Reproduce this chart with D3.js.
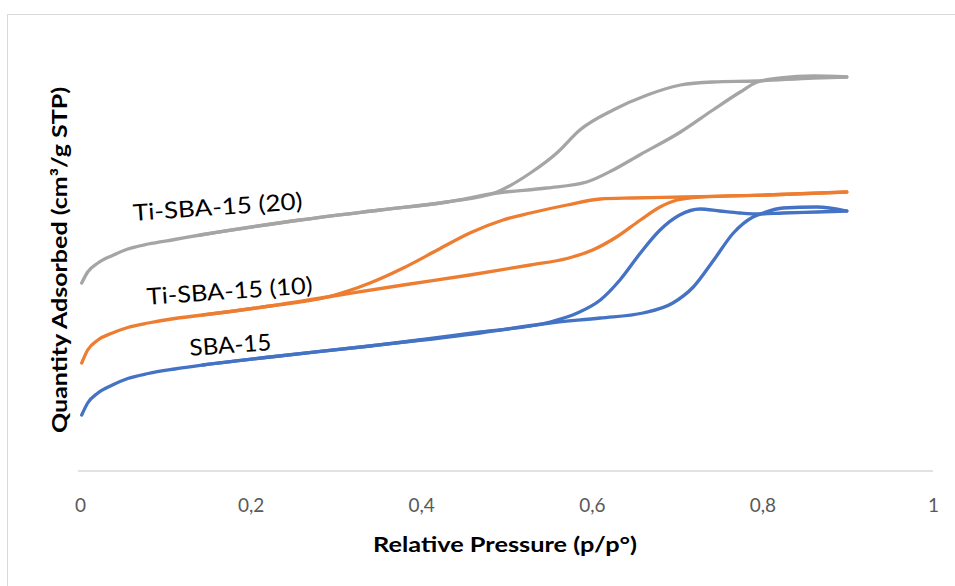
<!DOCTYPE html>
<html>
<head>
<meta charset="utf-8">
<script src="https://cdn.jsdelivr.net/npm/d3@7"></script>
<style>
  html, body { margin: 0; padding: 0; background: #fff; }
  svg { display: block; }
</style>
</head>
<body>
<svg id="chart" width="955" height="586"></svg>
<script>
// ---- data (relative pressure p/p°, quantity adsorbed cm³/g STP) ----
const seriesNames = ["SBA-15", "Ti-SBA-15 (10)", "Ti-SBA-15 (20)"];
const seriesColors = ["#4472C4", "#ED7D31", "#A5A5A5"];
const xTicks = [0, 0.2, 0.4, 0.6, 0.8, 1];
const xTickLabels = ["0", "0,2", "0,4", "0,6", "0,8", "1"];

const sbaAdsP = [0.002,0.009,0.021,0.038,0.056,0.080,0.111,0.144,0.223,0.340,0.469,0.551,0.610,0.660,0.695,0.719,0.743,0.766,0.789,0.801,0.824,0.864,0.899];
const sbaAdsQ = [110,134,154,170,183,193,202,210,226,248,274,294,304,314,334,366,420,474,506,514,524,526,518];
const sbaDesP = [0.899,0.864,0.824,0.797,0.774,0.750,0.727,0.703,0.680,0.657,0.633,0.610,0.583,0.551,0.469,0.340,0.223,0.144];
const sbaDesQ = [518,516,514,512,514,518,522,510,480,434,380,340,314,296,276,248,226,210];

const ti10AdsP = [0.002,0.009,0.021,0.038,0.056,0.080,0.111,0.144,0.223,0.290,0.379,0.457,0.528,0.571,0.601,0.629,0.657,0.680,0.700,0.727,0.805,0.899];
const ti10AdsQ = [214,240,260,274,285,294,303,310,328,346,370,390,410,423,440,466,500,526,540,546,550,556];
const ti10DesP = [0.899,0.805,0.707,0.648,0.610,0.571,0.528,0.496,0.457,0.419,0.379,0.340,0.290,0.223,0.144];
const ti10DesQ = [556,550,546,544,542,530,514,500,474,440,404,374,346,328,310];

const ti20AdsP = [0.002,0.009,0.021,0.038,0.056,0.080,0.111,0.141,0.258,0.352,0.430,0.489,0.547,0.594,0.625,0.656,0.704,0.742,0.774,0.794,0.821,0.860,0.899];
const ti20AdsQ = [374,396,414,429,442,452,461,470,500,520,536,554,564,576,600,630,676,720,756,776,784,788,786];
const ti20DesP = [0.899,0.860,0.794,0.742,0.704,0.665,0.625,0.586,0.559,0.528,0.489,0.430,0.352,0.258,0.141];
const ti20DesQ = [786,784,778,776,770,750,720,680,634,594,556,536,520,500,470];

// ---- layout ----
const svg = d3.select("#chart");
const font = "Lato, 'Open Sans', sans-serif";

svg.append("rect")
  .attr("x", 7.5).attr("y", 14.5).attr("width", 1000).attr("height", 600)
  .attr("fill", "#fff").attr("stroke", "#d9d9d9").attr("stroke-width", 1);

const x = d3.scaleLinear().domain([0, 1]).range([80, 933]);
const y = d3.scaleLinear().domain([-2, 860]).range([471, 40]);

// x axis
const axisG = svg.append("g").attr("transform", `translate(0,${y(-2)})`)
  .call(d3.axisBottom(x).tickValues(xTicks).tickSize(0).tickPadding(0)
        .tickFormat((d, i) => xTickLabels[i]));
axisG.select(".domain").attr("stroke", "#d9d9d9").attr("stroke-width", 1.3)
  .attr("d", `M${x(0) - 2},0H${x(1)}`);
axisG.selectAll(".tick text")
  .attr("y", 41).attr("dy", 0)
  .attr("fill", "#595959")
  .style("font-family", font).style("font-size", "19px");

// axis titles
svg.append("text")
  .attr("x", 505).attr("y", 552)
  .attr("text-anchor", "middle")
  .attr("textLength", 264).attr("lengthAdjust", "spacingAndGlyphs")
  .style("font-family", font).style("font-size", "21px").style("font-weight", "bold")
  .attr("fill", "#000")
  .text("Relative Pressure (p/p°)");

svg.append("text")
  .attr("transform", "translate(67,260) rotate(-90)")
  .attr("text-anchor", "middle")
  .attr("textLength", 346).attr("lengthAdjust", "spacingAndGlyphs")
  .style("font-family", font).style("font-size", "21px").style("font-weight", "bold")
  .attr("fill", "#000")
  .text("Quantity Adsorbed (cm³/g STP)");

// series
const series = [
  { adsP: sbaAdsP, adsQ: sbaAdsQ, desP: sbaDesP, desQ: sbaDesQ },
  { adsP: ti10AdsP, adsQ: ti10AdsQ, desP: ti10DesP, desQ: ti10DesQ },
  { adsP: ti20AdsP, adsQ: ti20AdsQ, desP: ti20DesP, desQ: ti20DesQ }
];

const line = d3.line()
  .x(d => x(d[0])).y(d => y(d[1]))
  .curve(d3.curveMonotoneX);

series.forEach((s, i) => {
  const ads = s.adsP.map((p, k) => [p, s.adsQ[k]]);
  const des = s.desP.map((p, k) => [p, s.desQ[k]]);
  [ads, des].forEach(branch => {
    svg.append("path")
      .attr("d", line(branch))
      .attr("fill", "none")
      .attr("stroke", seriesColors[i])
      .attr("stroke-width", 3.3)
      .attr("stroke-linejoin", "round")
      .attr("stroke-linecap", "round");
  });
});

// series labels placed along curves
const labelSpecs = [
  { i: 0, p: 0.177, q: 234, w: 82 },
  { i: 1, p: 0.176, q: 342, w: 166 },
  { i: 2, p: 0.162, q: 510, w: 170 }
];
labelSpecs.forEach(l => {
  svg.append("text")
    .attr("transform", `translate(${x(l.p)},${y(l.q)}) rotate(-4)`)
    .attr("text-anchor", "middle")
    .attr("textLength", l.w).attr("lengthAdjust", "spacingAndGlyphs")
    .style("font-family", font).style("font-size", "23px")
    .attr("fill", "#000")
    .text(seriesNames[l.i]);
});
</script>
</body>
</html>
